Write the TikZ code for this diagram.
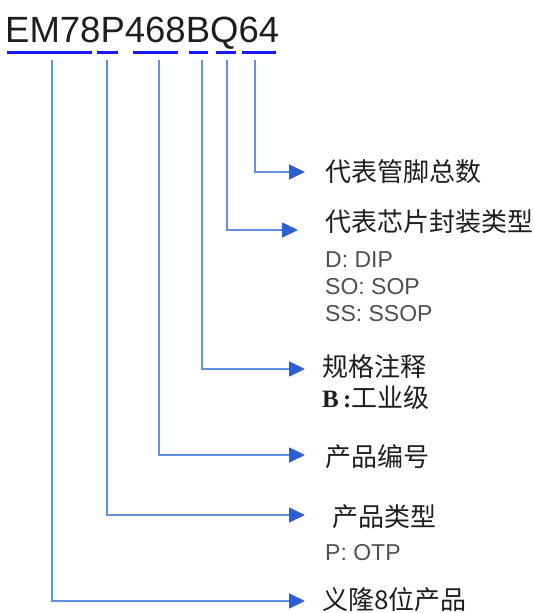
\documentclass[tikz,border=0pt]{standalone}
\usepackage{fontspec}
\setmainfont{Liberation Sans}
\newfontfamily\cjk{Noto Sans CJK SC}
\newfontfamily\serifb{Liberation Serif}
\usetikzlibrary{arrows.meta}
\definecolor{pmbluec}{RGB}{25,25,245}
\definecolor{pmwirec}{RGB}{100,145,220}
\definecolor{pmtipc}{RGB}{45,95,210}
\definecolor{pmgrayc}{RGB}{80,80,80}
\definecolor{pminkc}{RGB}{30,30,30}
\tikzset{
  pmtitle/.style={anchor=base west,inner sep=0pt,pminkc,font=\fontsize{36.5}{40}\selectfont},
  pmbar/.style={pmbluec,line width=3pt},
  pmwire/.style={pmwirec,line width=1.6pt,-{Triangle[length=16pt,width=15pt,color=pmtipc]}},
  pmlabel/.style={anchor=west,inner sep=0pt,pminkc,font=\cjk\fontsize{26}{30}\selectfont},
  pmnote/.style={anchor=base west,inner sep=0pt,pmgrayc,font=\fontsize{23}{26}\selectfont},
}

\begin{document}
\begin{tikzpicture}[x=1pt,y=-1pt]
  \useasboundingbox (0,0) rectangle (534,613);
  \node[pmtitle] (pn) at (5,42) {EM78P468BQ64};
  \foreach \a/\b in {7/92,97/118,133/178,189/208,216/236,242/276}{
    \draw[pmbar] (\a,52) -- (\b,52);}
  % labels
  \node[pmlabel] (pins) at (325,172) {代表管脚总数};
  \node[pmlabel] (pkg) at (325,222) {代表芯片封装类型};
  \node[pmnote] (pkgd) at (325,267) {D: DIP};
  \node[pmnote] (pkgso) at (325,294) {SO: SOP};
  \node[pmnote] (pkgss) at (325,321) {SS: SSOP};
  \node[pmlabel] (spec) at (322,367) {规格注释};
  \node[pmlabel] (specb) at (322,398) {{\serifb\bfseries\fontsize{25}{28}\selectfont B\,:}工业级};
  \node[pmlabel] (code) at (325,457) {产品编号};
  \node[pmlabel] (kind) at (332,517) {产品类型};
  \node[pmnote] (kindp) at (325,560) {P: OTP};
  \node[pmlabel] (brand) at (322,600) {义隆8位产品};
  % connectors
  \foreach \n/\x/\y/\t in {pins/255/172/305,pkg/227/230/298,spec/202/369/305,
      code/159/455/305,kind/107/515/305,brand/52/601/305}{
    \coordinate (\n s) at (\x,60);
    \coordinate (\n t) at (\t,\y);
    \draw[pmwire] (\n s) |- (\n t);}
\end{tikzpicture}
\end{document}
